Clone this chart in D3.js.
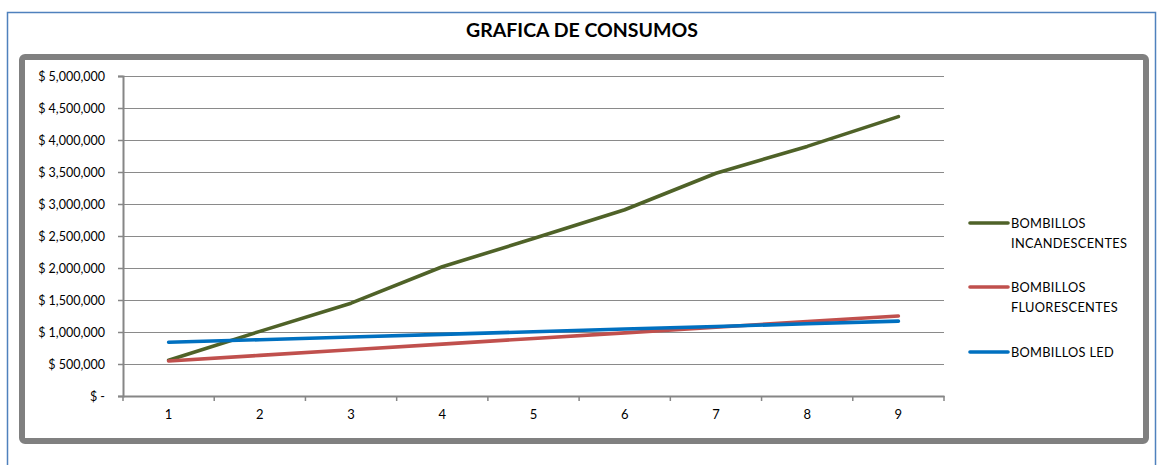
<!DOCTYPE html>
<html>
<head>
<meta charset="utf-8">
<script src="https://cdn.jsdelivr.net/npm/d3@7"></script>
<style>
  body { margin: 0; background: #fff; }
  text { font-family: Lato, "Open Sans", sans-serif; fill: #000; }
</style>
</head>
<body>
<div id="container"></div>
<script>
/* DATA */
const periods = [1, 2, 3, 4, 5, 6, 7, 8, 9];
const incandescentes = [560000, 1010000, 1450000, 2020000, 2460000, 2910000, 3480000, 3900000, 4365000];
const fluorescentes = [547000, 635000, 723000, 811000, 899000, 987000, 1075000, 1163000, 1250000];
const led = [839000, 880000, 921000, 963000, 1004000, 1046000, 1087000, 1128000, 1170000];
const yTicks = [0, 500000, 1000000, 1500000, 2000000, 2500000, 3000000, 3500000, 4000000, 4500000, 5000000];
const seriesNames = [["BOMBILLOS", "INCANDESCENTES"], ["BOMBILLOS", "FLUORESCENTES"], ["BOMBILLOS LED"]];
const colors = ["#4F6228", "#C0504D", "#0070C0"];

/* CONSTANTS */
const width = 1157, height = 465;
const plot = {left: 123, right: 944, top: 76, bottom: 396};

const svg = d3.select("#container")
  .append("svg")
  .attr("width", width)
  .attr("height", height);

// outer blue border
svg.append("rect")
  .attr("x", 7.5).attr("y", 12.5)
  .attr("width", 1148).attr("height", 470)
  .attr("fill", "#fff")
  .attr("stroke", "#4F81BD")
  .attr("stroke-width", 1.5);

// title
svg.append("text")
  .attr("x", 582).attr("y", 37)
  .attr("text-anchor", "middle")
  .style("font-size", "19.5px")
  .style("font-weight", "bold")
  .text("GRAFICA DE CONSUMOS");

// gray frame
svg.append("rect")
  .attr("x", 22).attr("y", 57)
  .attr("width", 1124).attr("height", 384)
  .attr("rx", 3)
  .attr("fill", "#fff")
  .attr("stroke", "#808080")
  .attr("stroke-width", 6);

/* SCALES */
const xScale = d3.scaleBand()
  .domain(periods)
  .range([plot.left, plot.right]);

const yScale = d3.scaleLinear()
  .domain([0, 5000000])
  .range([plot.bottom, plot.top]);

const fmt = d3.format(",");

// gridlines
svg.append("g")
  .selectAll("line")
  .data(yTicks.filter(d => d > 0))
  .join("line")
  .attr("x1", plot.left).attr("x2", plot.right)
  .attr("y1", d => yScale(d) + 0.5).attr("y2", d => yScale(d) + 0.5)
  .attr("stroke", "#8a8a8a")
  .attr("stroke-width", 1);

// y axis
const yAxis = d3.axisLeft(yScale)
  .tickValues(yTicks)
  .tickSize(5)
  .tickPadding(13)
  .tickFormat(d => d === 0 ? "$ -" : "$ " + fmt(d));

const yG = svg.append("g")
  .attr("transform", `translate(${plot.left}, 0)`)
  .call(yAxis);
yG.select(".domain").attr("stroke", "#868686").attr("stroke-width", 2);
yG.selectAll(".tick line").attr("stroke", "#868686").attr("stroke-width", 1.5);
yG.selectAll("text").style("font-size", "12.5px").style("font-family", "Lato, sans-serif");

// x axis (ticks between categories)
const xAxis = d3.axisBottom(xScale).tickSize(0).tickPadding(14);
const xG = svg.append("g")
  .attr("transform", `translate(0, ${plot.bottom})`)
  .call(xAxis);
xG.select(".domain").attr("stroke", "#868686").attr("stroke-width", 2);
xG.selectAll("text").style("font-size", "13px").style("font-family", "Lato, sans-serif");
xG.selectAll("line.sep")
  .data(d3.range(periods.length + 1))
  .join("line")
  .attr("class", "sep")
  .attr("x1", i => plot.left + i * xScale.step())
  .attr("x2", i => plot.left + i * xScale.step())
  .attr("y1", 0).attr("y2", 5)
  .attr("stroke", "#868686")
  .attr("stroke-width", 1.5);

/* LINES */
const line = d3.line()
  .x((d, i) => xScale(periods[i]) + xScale.bandwidth() / 2)
  .y(d => yScale(d));

const allSeries = [incandescentes, fluorescentes, led];
svg.append("g")
  .selectAll("path")
  .data(allSeries)
  .join("path")
  .attr("d", d => line(d))
  .attr("fill", "none")
  .attr("stroke", (d, i) => colors[i])
  .attr("stroke-width", 3.6)
  .attr("stroke-linecap", "round")
  .attr("stroke-linejoin", "round");

/* LEGEND */
const legendY = [223, 287, 352];
const legend = svg.append("g")
  .selectAll("g")
  .data(seriesNames)
  .join("g")
  .attr("transform", (d, i) => `translate(970, ${legendY[i]})`);

legend.append("line")
  .attr("x1", 0).attr("x2", 38)
  .attr("stroke", (d, i) => colors[i])
  .attr("stroke-width", 3.6)
  .attr("stroke-linecap", "round");

legend.append("text")
  .attr("x", 41)
  .attr("y", 5)
  .style("font-size", "12.8px")
  .style("letter-spacing", "0.3px")
  .selectAll("tspan")
  .data(d => d)
  .join("tspan")
  .attr("x", 41)
  .attr("dy", (d, i) => i === 0 ? 0 : 20)
  .text(d => d);
</script>
</body>
</html>
